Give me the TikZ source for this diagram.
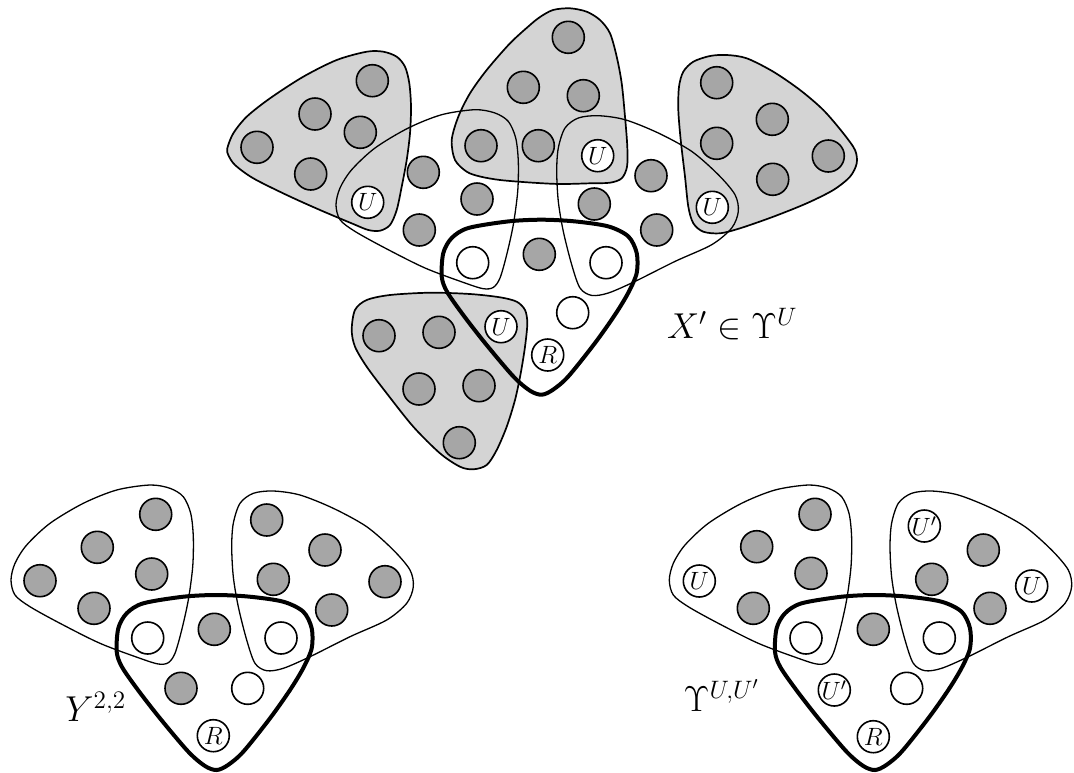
\RequirePackage{fix-cm}
\documentclass[tikz,border=0pt]{standalone}
\definecolor{blobgray}{HTML}{D4D4D4}
\definecolor{dotgray}{HTML}{A6A6A6}
\tikzset{
  gblob/.style={fill=blobgray, draw=black, line width=0.85pt},
  tblob/.style={draw=black, line width=0.65pt},
  boldtri/.style={draw=black, line width=2pt},
  vtx/.style={circle, draw=black, line width=0.8pt, minimum size=16pt, inner sep=0pt, font=\fontsize{12.5}{14}\selectfont},
  gv/.style={vtx, fill=dotgray},
  wv/.style={vtx, fill=white},
  lbl/.style={font=\fontsize{18}{22}\selectfont, inner sep=0pt, anchor=base west},
}
\newcommand\ShapeLB[1]{\draw[tblob,#1] plot[smooth cycle] coordinates {(11,580) (15,563.3) (26.7,545) (50,523.3) (83.3,503.3) (116.7,490) (150,485) (170,488.3) (183.3,496.7) (190.7,513.3) (193.3,536.7) (192.7,566.7) (188.3,600) (181.7,630) (175,653.3) (168.3,662.7) (158.3,664) (140,658.3) (100,643.3) (60,623.3) (30,606.7) (15,595)};}
\newcommand\ShapeRB[1]{\draw[tblob,#1] plot[smooth cycle] coordinates {(231.7,546.7) (233.3,523.3) (240,503.3) (253.3,493.3) (273.3,491) (300,495) (333.3,508.3) (366.7,526.7) (393.3,550) (410,570) (413.3,586.7) (406.7,603.3) (386.7,620) (350,636.7) (310,656.7) (283.3,668.3) (266.7,670.7) (255,663.3) (246.7,640) (238.3,606.7) (233.3,576.7)};}
\newcommand\ShapeBT[1]{\draw[boldtri,#1] plot[smooth cycle] coordinates {(116.7,651.7) (118.3,628.3) (126.7,613.3) (143.3,603.3) (183.3,596.7) (216.7,595) (250,596.7) (283.3,601.7) (303.3,611.7) (311.7,628.3) (311.7,648.3) (303.3,668) (290,690) (270,718.3) (243.3,751.7) (228,765) (216.7,770) (205,766) (188.3,751.7) (160,718.3) (138,690) (122,667)};}
\begin{document}
\begin{tikzpicture}[x=0.5pt,y=-0.5pt]
\useasboundingbox (0,0) rectangle (1074,772);
% ---------- top group: gray blobs ----------
\draw[gblob] plot[smooth cycle] coordinates {(227.3,148.3) (233.3,133.3) (246.7,116.7) (270,98.3) (303.3,76.7) (336.7,60) (366.7,51.7) (383.3,51.7) (396.7,56.7) (405,66.7) (409.3,83.3) (411,106.7) (410,133.3) (406.7,160) (401.7,186.7) (396.7,210) (390,225) (380,230.7) (368.3,230) (353.3,224) (320,210) (286.7,195) (253.3,178.3) (235,165) (228.3,155)};
\draw[gblob] plot[smooth cycle] coordinates {(553,10) (570,8.3) (586.7,11.7) (600,20) (610,33.3) (616.7,56.7) (621.7,83.3) (625,116.7) (627.3,146.7) (627,166.7) (621.7,178.3) (610,182.7) (590,183.3) (560,184) (530,182.5) (500,180) (480,176.5) (466.7,171.7) (455,160) (451.7,140) (458.3,116.7) (470,93.3) (486.7,70) (510,43.3) (530,25) (540,17)};
\draw[gblob] plot[smooth cycle] coordinates {(678.3,110) (679,86.7) (683.3,71.7) (693.3,61.7) (710,56) (726.7,55) (746.7,58.3) (773.3,71.7) (800,90) (823.3,110) (843.3,133.3) (855,150) (856.7,163.3) (850,176.7) (833.3,190) (806.7,203.3) (773.3,216.7) (740,228.3) (720,233.3) (703.3,231.7) (693.3,223.3) (688.3,206.7) (685,176.7) (680.7,140)};
\draw[gblob] plot[smooth cycle] coordinates {(351.7,330) (355,310) (366.7,300) (390,295) (430,292.7) (470,294) (500,297.3) (516.7,301.7) (525,310) (527.3,323.3) (525,346.7) (520.7,373.3) (515,400) (506.7,426.7) (496.7,450) (486.7,465) (473.3,469.3) (460,466.7) (440,453.3) (413.3,426.7) (386.7,393.3) (366.7,366.7) (355,346.7)};
% ---------- thin blobs and bold triangles ----------
\ShapeLB{}
\ShapeRB{}
\ShapeBT{}
\ShapeLB{shift={(658.3,0)}}
\ShapeRB{shift={(658.3,0)}}
\ShapeBT{shift={(658.3,0)}}
\ShapeLB{shift={(325,-375.3)}}
\ShapeRB{shift={(325,-375.3)}}
\ShapeBT{shift={(325,-375.3)}}
% ---------- top group: circles ----------
\node[gv] (a1) at (372.3,80.7) {};
\node[gv] (a2) at (315,114) {};
\node[gv] (a3) at (360.3,132.3) {};
\node[gv] (a4) at (257,147.3) {};
\node[gv] (a5) at (310.7,174) {};
\node[wv] (aU) at (367.7,202.3) {$U$};
\node[gv] (b1) at (568.3,37.3) {};
\node[gv] (b2) at (523.3,87.3) {};
\node[gv] (b3) at (583.3,95.7) {};
\node[gv] (b4) at (481,145.7) {};
\node[gv] (b5) at (538.3,145.7) {};
\node[wv] (bU) at (597.7,155.7) {$U$};
\node[gv] (c1) at (716.7,82.7) {};
\node[gv] (c2) at (772.3,119.3) {};
\node[gv] (c3) at (716.7,143.3) {};
\node[gv] (c4) at (828.3,156) {};
\node[gv] (c5) at (772.7,179.3) {};
\node[wv] (cU) at (712.3,207.3) {$U$};
\node[gv] (d1) at (423.3,172.3) {};
\node[gv] (d2) at (477,199) {};
\node[gv] (d3) at (419.3,230) {};
\node[gv] (e1) at (651,175.7) {};
\node[gv] (e2) at (594.3,204) {};
\node[gv] (e3) at (656.7,230) {};
\node[wv] (t1) at (472.7,262.7) {};
\node[gv] (t2) at (539.3,254.3) {};
\node[wv] (t3) at (606,262.7) {};
\node[wv] (t4) at (572.7,312.7) {};
\node[wv] (tU) at (501,326.7) {$U$};
\node[wv] (tR) at (547.7,355) {$R$};
\node[gv] (f1) at (379,335.7) {};
\node[gv] (f2) at (439,332.3) {};
\node[gv] (f3) at (419,389) {};
\node[gv] (f4) at (479,385.7) {};
\node[gv] (f5) at (459.3,442.7) {};
\node[lbl] (xlab) at (666.7,338.3) {$X'\in\Upsilon^U$};
% ---------- Y^{2,2} group ----------
\node[gv] (y1) at (40,580.7) {};
\node[gv] (y2) at (97.3,547.3) {};
\node[gv] (y3) at (155.7,514.3) {};
\node[gv] (y4) at (151.7,574) {};
\node[gv] (y5) at (94,608.3) {};
\node[wv] (y6) at (147.7,638) {};
\node[gv] (y7) at (266.7,520) {};
\node[gv] (y8) at (325,550) {};
\node[gv] (y9) at (273.3,579.3) {};
\node[gv] (y10) at (385,581.7) {};
\node[gv] (y11) at (331.7,610) {};
\node[wv] (y12) at (281,638) {};
\node[gv] (y13) at (214.3,629.3) {};
\node[gv] (y14) at (181,688.3) {};
\node[wv] (y15) at (247.7,688.3) {};
\node[wv] (yR) at (213.3,735.7) {$R$};
\node[lbl] (ylab) at (65,721.7) {$Y^{2,2}$};
% ---------- Upsilon^{U,U'} group ----------
\node[wv] (u1) at (699.3,581) {$U$};
\node[gv] (u2) at (756.7,546.7) {};
\node[gv] (u3) at (815,514.3) {};
\node[gv] (u4) at (811,573.3) {};
\node[gv] (u5) at (753.3,608.3) {};
\node[wv] (u6) at (806,638) {};
\node[wv] (u7) at (924.3,526) {$U'$};
\node[gv] (u8) at (983.3,550) {};
\node[gv] (u9) at (931.7,579.3) {};
\node[wv] (u10) at (1031.7,586) {$U$};
\node[gv] (u11) at (990,608.3) {};
\node[wv] (u12) at (939.3,638) {};
\node[gv] (u13) at (873.3,629.3) {};
\node[wv] (u14) at (834.3,690) {$U'$};
\node[wv] (u15) at (906.7,688.3) {};
\node[wv] (uR) at (873.3,736.7) {$R$};
\node[lbl] (ulab) at (683.3,711.7) {$\Upsilon^{U,U'}$};
\end{tikzpicture}
\end{document}
